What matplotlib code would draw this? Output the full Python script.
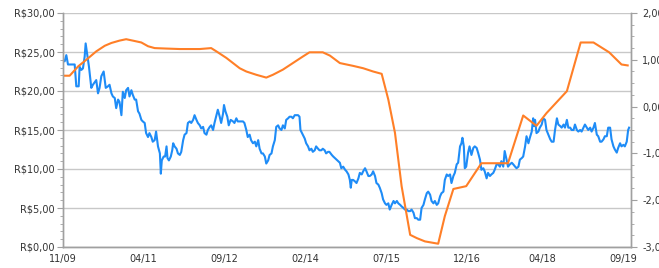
import matplotlib
matplotlib.use("Agg")
import matplotlib.pyplot as plt
from matplotlib.ticker import FixedLocator, MultipleLocator

# x axis in months since 11/2009
tick_months = [0, 17, 34, 51, 68, 85, 101, 118]
tick_labels = ["11/09", "04/11", "09/12", "02/14", "07/15", "12/16", "04/18", "09/19"]

# share price (left axis, R$)
price_months = [
    0, 0.35, 0.7, 1.05, 1.75, 2.46, 2.8, 3.3, 3.5, 3.86, 4.2, 4.56, 4.77, 5.05, 5.47, 5.96,
    6.3, 7.0, 7.37, 7.7, 8.07, 8.56, 9.0, 9.47, 9.8, 10.2, 10.5, 10.9, 11.2, 11.6, 11.9,
    12.3, 12.6, 13.0, 13.3, 13.7, 14.0, 14.4, 14.7, 15.1, 15.4, 15.8, 16.1, 16.5, 16.8,
    17.2, 17.5, 17.9, 18.2, 18.6, 18.9, 19.3, 19.6, 20.0, 20.4, 20.6, 20.8, 21.2, 21.5,
    21.8, 22.0, 22.3, 22.7, 23.0, 23.2, 23.5, 23.9, 24.2, 24.6, 24.9, 25.3, 25.6, 26.0,
    26.3, 26.7, 27.0, 27.4, 27.7, 28.1, 28.4, 28.8, 29.1, 29.5, 29.8, 30.2, 30.5, 30.9,
    31.2, 31.6, 31.9, 32.3, 32.6, 33.0, 33.3, 33.7, 33.9, 34.2, 34.6, 34.9, 35.3, 35.8,
    36.1, 36.5, 36.8, 37.2, 37.9, 38.2, 38.6, 38.9, 39.3, 39.6, 40.0, 40.4, 40.7, 41.1,
    41.4, 41.8, 42.1, 42.5, 42.8, 43.2, 43.5, 43.9, 44.2, 44.6, 44.9, 45.3, 45.6, 46.0,
    46.3, 46.7, 47.0, 47.4, 47.7, 48.1, 48.4, 48.8, 49.1, 49.5, 49.8, 50.0, 50.5, 50.9,
    51.2, 51.6, 51.9, 52.3, 52.6, 53.0, 53.3, 53.7, 54.0, 54.4, 54.7, 55.1, 55.4, 55.8,
    56.1, 56.6, 56.9, 57.6, 58.3, 58.6, 59.0, 59.4, 59.7, 60.1, 60.4, 60.6, 60.8, 61.1,
    61.5, 61.8, 62.2, 62.5, 62.9, 63.2, 63.6, 63.9, 64.3, 64.6, 65.0, 65.3, 65.7, 66.0,
    66.4, 66.7, 67.1, 67.4, 67.8, 68.1, 68.5, 68.8, 69.2, 69.6, 69.9, 70.3, 70.6, 71.0,
    71.3, 71.7, 72.0, 72.4, 72.7, 73.1, 73.4, 73.8, 74.1, 74.5, 74.8, 75.2, 75.5, 75.9,
    76.2, 76.6, 76.9, 77.3, 77.6, 78.0, 78.3, 78.7, 79.0, 79.4, 79.7, 80.1, 80.4, 80.8,
    81.1, 81.5, 81.8, 82.2, 82.5, 82.9, 83.2, 83.6, 83.9, 84.1, 84.4, 84.6, 84.9, 85.3,
    85.6, 86.0, 86.4, 86.7, 87.1, 87.4, 87.8, 88.1, 88.5, 88.8, 89.2, 89.5, 89.9, 90.2,
    90.6, 90.9, 91.3, 91.6, 92.0, 92.3, 92.7, 93.0, 93.4, 93.7, 94.1, 94.5, 94.8, 95.2,
    95.5, 95.9, 96.2, 96.6, 96.9, 97.3, 97.6, 98.0, 98.3, 98.7, 99.0, 99.2, 99.4, 99.7,
    100.1, 100.4, 100.8, 101.1, 101.5, 101.8, 102.2, 102.6, 102.9, 103.3, 103.6, 104.0,
    104.3, 104.7, 105.0, 105.4, 105.7, 106.1, 106.4, 106.8, 107.1, 107.5, 107.8, 108.2,
    108.5, 108.9, 109.2, 109.6, 109.9, 110.3, 110.6, 111.0, 111.3, 111.7, 112.0, 112.4,
    112.7, 113.1, 113.4, 113.8, 114.1, 114.5, 114.8, 115.2, 115.5, 115.9, 116.2, 116.6,
    116.9, 117.3, 117.6, 118.0, 118.3, 118.7, 119.0, 119.2,
]
price = [
    24.0, 23.8, 24.6, 23.4, 23.4, 23.4, 20.6, 20.6, 23.1, 22.7, 22.9, 24.4, 26.1, 24.9, 23.1, 20.4,
    20.8, 21.4, 19.7, 20.4, 21.9, 22.5, 20.4, 20.6, 20.8, 19.7, 19.3, 19.1, 17.8, 18.9, 18.6,
    16.9, 19.9, 19.1, 20.1, 20.4, 19.3, 20.1, 19.5, 18.9, 18.9, 17.4, 17.1, 16.3, 16.1,
    15.9, 14.6, 14.1, 14.6, 14.1, 13.5, 13.7, 14.8, 12.9, 12.0, 9.4, 11.1, 11.6, 11.6,
    12.9, 11.4, 11.1, 11.6, 12.4, 13.3, 12.9, 12.6, 12.0, 11.8, 12.2, 13.7, 14.4, 14.6,
    15.9, 16.1, 15.9, 16.3, 16.9, 16.3, 15.9, 15.6, 15.2, 15.4, 14.6, 14.4, 15.0, 15.4,
    15.6, 15.0, 15.9, 16.9, 17.6, 16.7, 15.9, 17.1, 18.2, 17.4, 16.7, 15.6, 16.3, 16.1,
    15.9, 16.5, 16.1, 16.1, 16.1, 15.9, 15.0, 14.1, 14.4, 13.7, 13.3, 13.5, 12.9, 13.7,
    12.6, 12.0, 12.0, 11.6, 10.7, 11.1, 11.8, 12.0, 12.9, 13.7, 15.4, 15.6, 15.2, 15.0,
    15.6, 15.2, 16.3, 16.5, 16.7, 16.7, 16.5, 16.9, 16.9, 16.9, 16.7, 15.0, 14.4, 13.9,
    13.3, 12.9, 12.4, 12.6, 12.2, 12.4, 12.9, 12.6, 12.4, 12.4, 12.6, 12.4, 12.0, 12.2,
    12.2, 11.8, 11.6, 11.2, 10.8, 10.1, 10.3, 9.9, 9.7, 9.3, 8.6, 7.6, 8.6, 8.6,
    8.4, 8.2, 8.8, 9.5, 9.3, 9.7, 10.1, 9.7, 9.1, 9.1, 9.3, 9.7, 9.1, 8.2,
    8.0, 7.6, 6.9, 6.1, 5.6, 5.4, 5.6, 4.8, 5.4, 5.9, 5.6, 5.9, 5.6, 5.4,
    5.2, 5.0, 4.8, 4.8, 4.6, 4.6, 4.8, 4.4, 3.7, 3.7, 3.5, 3.5, 5.0, 5.4,
    6.1, 6.9, 7.1, 6.7, 5.9, 5.6, 5.9, 5.4, 5.6, 6.5, 6.9, 7.1, 8.6, 9.3,
    9.1, 9.3, 8.2, 9.1, 9.5, 10.6, 10.8, 12.9, 13.3, 14.0, 12.9, 10.1, 10.3, 12.1,
    12.9, 11.8, 12.7, 12.9, 12.7, 12.1, 11.2, 9.9, 10.1, 9.7, 8.8, 9.5, 9.1, 9.3,
    9.5, 9.9, 10.6, 10.6, 10.3, 11.0, 10.3, 12.3, 11.2, 10.3, 10.6, 10.8, 10.6, 10.3,
    10.1, 10.3, 11.2, 11.4, 11.6, 12.9, 14.2, 13.3, 14.0, 14.8, 16.5, 15.5, 16.3, 14.6,
    14.8, 15.3, 15.7, 16.5, 16.3, 15.0, 14.4, 13.8, 13.5, 13.5, 15.0, 16.5,
    15.7, 15.5, 15.3, 15.7, 15.3, 16.3, 15.3, 15.3, 15.0, 15.0, 15.7, 15.0,
    14.8, 15.0, 14.8, 15.3, 15.7, 15.3, 15.0, 15.3, 14.8, 15.3, 15.9, 14.4,
    14.2, 13.5, 13.5, 13.8, 14.2, 14.2, 15.3, 15.3, 13.8, 12.9, 12.5, 12.1,
    12.7, 13.3, 12.9, 13.1, 12.9, 13.5, 15.0, 15.3,
]

# indicator (right axis)
ind_months = [
    0, 1.4, 3.2, 4.9, 7.0, 8.8, 10.2, 11.9, 13.3, 14.7, 16.5, 17.9, 19.3, 21.8, 24.6,
    28.8, 31.2, 32.3, 34.4, 35.8, 37.2, 38.6, 40.7, 42.8, 44.2, 46.3, 48.4, 50.5, 51.9,
    54.7, 56.2, 58.3, 61.1, 63.2, 65.3, 67.1, 68.5, 69.9, 71.3, 73.1, 74.5, 76.2, 79.0,
    80.4, 82.2, 84.9, 88.1, 93.7, 96.9, 99.7, 101.8, 106.1, 109.0, 111.7, 115.0, 117.6,
    118.9,
]
indicator = [
    0.66, 0.66, 0.86, 1.0, 1.18, 1.30, 1.36, 1.41, 1.44, 1.41, 1.37, 1.29, 1.25, 1.24, 1.23,
    1.23, 1.25, 1.18, 1.04, 0.93, 0.82, 0.75, 0.68, 0.62, 0.68, 0.79, 0.93, 1.07, 1.16,
    1.16, 1.09, 0.93, 0.87, 0.82, 0.75, 0.70, 0.15, -0.56, -1.70, -2.74, -2.81, -2.88, -2.93,
    -2.34, -1.76, -1.70, -1.21, -1.21, -0.19, -0.41, -0.14, 0.33, 1.37, 1.37, 1.16, 0.90,
    0.88,
]

BLUE = "#1E8CF7"
ORANGE = "#FF7F27"
GRID = "#C8C8C8"
AXIS = "#A0A0A0"
TEXT = "#333333"

fig = plt.figure(figsize=(6.59, 2.68), dpi=100)
ax = fig.add_axes([63 / 659, 21 / 268, 568 / 659, 234 / 268])
ax2 = ax.twinx()

ax.plot(price_months, price, color=BLUE, lw=1.5, solid_joinstyle="round")
ax2.plot(ind_months, indicator, color=ORANGE, lw=1.5, solid_joinstyle="round")

ax.set_xlim(0, 119.6)
ax.set_ylim(0, 30)
ax2.set_ylim(-3, 2)

# left axis: R$ every 5, minor every 1
ax.set_yticks(range(0, 31, 5))
ax.set_yticklabels([f"R\\${v},00" for v in range(0, 31, 5)])
ax.yaxis.set_minor_locator(MultipleLocator(1))

# right axis: labels run off the edge like in the original
ax2.set_yticks([-3, -2, -1, 0, 1, 2])
ax2.set_yticklabels([f"{v},00" for v in [-3, -2, -1, 0, 1, 2]])
ax2.yaxis.set_minor_locator(MultipleLocator(0.25))

ax.xaxis.set_major_locator(FixedLocator(tick_months))
ax.set_xticklabels(tick_labels)

ax.grid(axis="y", which="major", color=GRID, lw=1)
ax.set_axisbelow(True)

for a in (ax, ax2):
    a.spines["top"].set_visible(False)
    for side in ("left", "right", "bottom"):
        a.spines[side].set_color(AXIS)
        a.spines[side].set_linewidth(1)

ax.tick_params(axis="x", length=0, pad=5, labelsize=7, labelcolor=TEXT)
ax.tick_params(axis="y", which="major", length=4, color=AXIS, labelsize=7, labelcolor=TEXT, pad=2)
ax.tick_params(axis="y", which="minor", length=2, color=AXIS)
ax2.tick_params(axis="y", which="major", length=4, color=AXIS, labelsize=7, labelcolor=TEXT, pad=4)
ax2.tick_params(axis="y", which="minor", length=2, color=AXIS)

fig.savefig("out.png", dpi=100)
